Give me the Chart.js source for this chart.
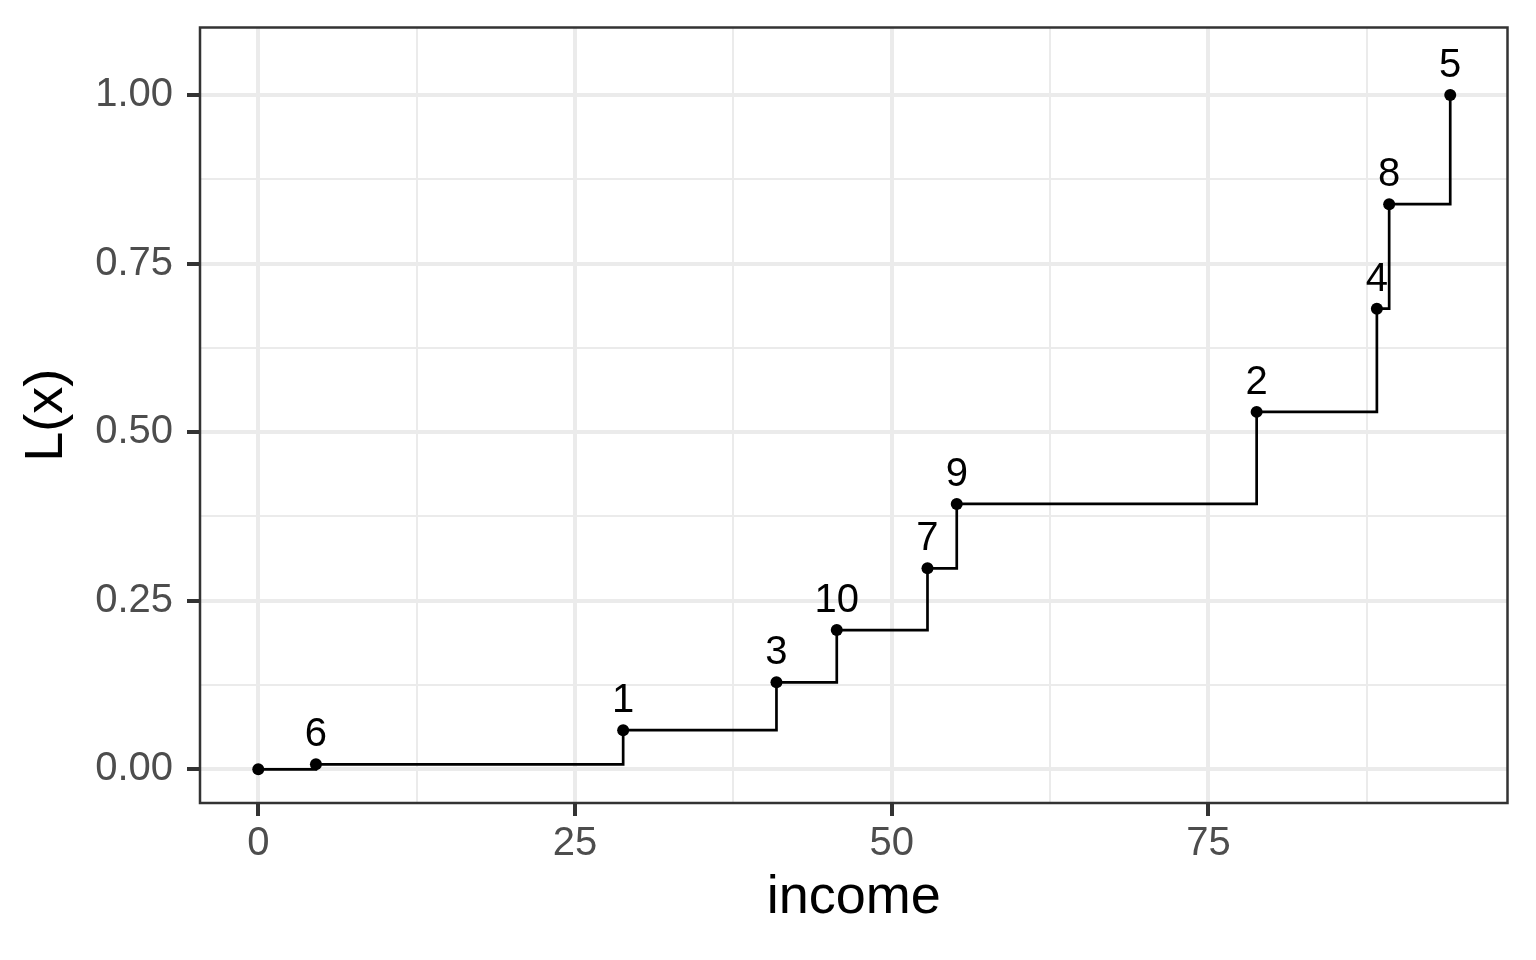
<!DOCTYPE html>
<html>
<head>
<meta charset="utf-8">
<script src="https://cdn.jsdelivr.net/npm/chart.js@4.4.1/dist/chart.umd.min.js"></script>
<style>
  html, body { margin: 0; padding: 0; background: #fff; }
  canvas { display: block; }
</style>
</head>
<body>
<canvas id="lorenzChart" width="1536" height="960"></canvas>
<script>
// ids shown above each point (first point is the origin, no label)
const ids = ['', '6', '1', '3', '10', '7', '9', '2', '4', '8', '5'];
const income = [0, 4.55, 28.8, 40.9, 45.66, 52.82, 55.13, 78.8, 88.29, 89.26, 94.08];
const lx = [0, 0.0074, 0.058, 0.129, 0.2064, 0.298, 0.3935, 0.530, 0.683, 0.838, 1.0];

const xTicks = [0, 12.5, 25, 37.5, 50, 62.5, 75, 87.5];
const yTicks = [0, 0.125, 0.25, 0.375, 0.5, 0.625, 0.75, 0.875, 1.0];
const xMajor = [0, 25, 50, 75];
const yMajor = [0, 0.25, 0.5, 0.75, 1.0];

const FONT = "'Liberation Sans', Arial, Helvetica, sans-serif";

function isMajor(list, v) {
    return list.some(m => Math.abs(m - v) < 1e-9);
}

// panel border on top, like theme_bw
const panelBorder = {
    id: 'panelBorder',
    afterDraw(chart) {
        const a = chart.chartArea;
        const c = chart.ctx;
        c.save();
        c.strokeStyle = '#333333';
        c.lineWidth = 2.5;
        c.strokeRect(a.left, a.top, a.right - a.left, a.bottom - a.top);
        c.restore();
    }
};

// text labels above the points
const pointLabels = {
    id: 'pointLabels',
    afterDatasetsDraw(chart) {
        const meta = chart.getDatasetMeta(0);
        const c = chart.ctx;
        c.save();
        c.font = '40px ' + FONT;
        c.fillStyle = '#000000';
        c.textAlign = 'center';
        c.textBaseline = 'alphabetic';
        meta.data.forEach((el, i) => {
            if (ids[i]) c.fillText(ids[i], el.x, el.y - 18);
        });
        c.restore();
    }
};

let ctx = document.getElementById('lorenzChart').getContext('2d');

let lorenzChart = new Chart(ctx, {
    type: 'line',
    data: {
        datasets: [{
            data: income.map((x, i) => ({ x: x, y: lx[i] })),
            stepped: 'before',
            borderColor: '#000000',
            borderWidth: 2.7,
            pointRadius: 6,
            pointBackgroundColor: '#000000',
            pointBorderWidth: 0,
            fill: false
        }]
    },
    options: {
        responsive: false,
        animation: false,
        layout: {
            padding: { top: 27.5, right: 28.5, left: 0, bottom: 0 }
        },
        plugins: {
            legend: { display: false },
            tooltip: { enabled: false }
        },
        scales: {
            x: {
                type: 'linear',
                min: -4.6,
                max: 98.6,
                afterBuildTicks: (scale) => { scale.ticks = xTicks.map(v => ({ value: v })); },
                afterFit: (scale) => {
                    scale.height = 157;
                    scale.paddingLeft = 0;
                    scale.paddingRight = 0;
                },
                border: { display: false },
                grid: {
                    color: (c) => '#EBEBEB',
                    lineWidth: (c) => isMajor(xMajor, c.tick.value) ? 4 : 2,
                    tickColor: (c) => isMajor(xMajor, c.tick.value) ? '#333333' : 'rgba(0,0,0,0)',
                    tickWidth: 4,
                    tickLength: 13
                },
                ticks: {
                    autoSkip: false,
                    maxRotation: 0,
                    padding: 4,
                    color: '#4D4D4D',
                    font: { family: FONT, size: 40 },
                    callback: (v) => isMajor(xMajor, v) ? String(v) : ''
                },
                title: {
                    display: true,
                    text: 'income',
                    color: '#000000',
                    font: { family: FONT, size: 54, lineHeight: 1.2 },
                    padding: { top: 0, bottom: 29 }
                }
            },
            y: {
                type: 'linear',
                min: -0.05,
                max: 1.1,
                afterBuildTicks: (scale) => { scale.ticks = yTicks.map(v => ({ value: v })); },
                afterFit: (scale) => {
                    scale.width = 200;
                    scale.paddingTop = 0;
                    scale.paddingBottom = 0;
                },
                border: { display: false },
                grid: {
                    color: (c) => '#EBEBEB',
                    lineWidth: (c) => isMajor(yMajor, c.tick.value) ? 4 : 2,
                    tickColor: (c) => isMajor(yMajor, c.tick.value) ? '#333333' : 'rgba(0,0,0,0)',
                    tickWidth: 4,
                    tickLength: 13
                },
                ticks: {
                    autoSkip: false,
                    padding: 14,
                    color: '#4D4D4D',
                    font: { family: FONT, size: 40 },
                    callback: (v) => isMajor(yMajor, v) ? v.toFixed(2) : ''
                },
                title: {
                    display: true,
                    text: 'L(x)',
                    color: '#000000',
                    font: { family: FONT, size: 54, lineHeight: 1.2 },
                    padding: { top: 15, bottom: 0 }
                }
            }
        }
    },
    plugins: [panelBorder, pointLabels]
});
</script>
</body>
</html>
